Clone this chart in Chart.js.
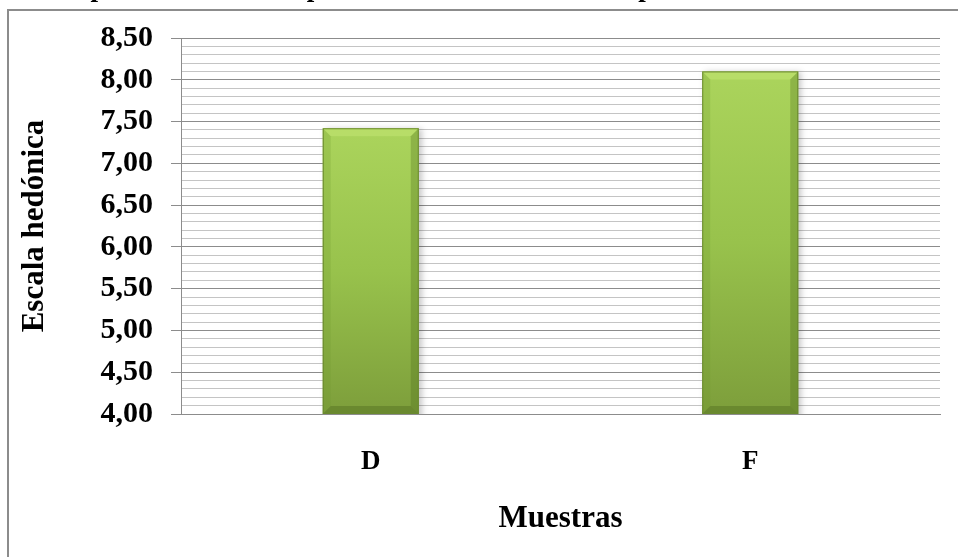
<!DOCTYPE html>
<html>
<head>
<meta charset="utf-8">
<script src="https://cdn.jsdelivr.net/npm/chart.js@4/dist/chart.umd.min.js"></script>
<style>
  html, body { margin: 0; padding: 0; background: #fff; }
  #wrap { width: 958px; height: 557px; }
</style>
</head>
<body>
<div id="wrap"><canvas id="hedonicChart" width="958" height="557"></canvas></div>
<script>
// data
const samples = ["D", "F"];
const hedonicMeans = [7.42, 8.10];
const yMin = 4.0;
const yMax = 8.5;
const yTitle = "Escala hedónica";
const xTitle = "Muestras";
const clippedTitle = "Valor promedio de la aceptabilidad de la bebida en el proceso de fermentación";

const SERIF = "'Liberation Serif', 'DejaVu Serif', serif";

// frame + clipped title sitting above the chart
const framePlugin = {
  id: "frame",
  beforeDraw(chart) {
    const ctx = chart.ctx;
    ctx.save();
    ctx.fillStyle = "#fff";
    ctx.fillRect(0, 0, chart.width, chart.height);
    ctx.fillStyle = "#000";
    ctx.font = "bold 27px " + SERIF;
    ctx.textAlign = "center";
    ctx.textBaseline = "alphabetic";
    ctx.fillText(clippedTitle, 470, -4);
    ctx.strokeStyle = "#8c8c8c";
    ctx.lineWidth = 2;
    ctx.strokeRect(8, 10, chart.width + 20, chart.height + 20);
    ctx.restore();
  }
};

// soft shadow + bevel on the bars
const bevelPlugin = {
  id: "bevel",
  beforeDatasetDraw(chart) {
    const ctx = chart.ctx;
    ctx.save();
    ctx.shadowColor = "rgba(0,0,0,0.22)";
    ctx.shadowBlur = 6;
    ctx.shadowOffsetX = 3;
    ctx.shadowOffsetY = 1;
  },
  afterDatasetDraw(chart, args) {
    const ctx = chart.ctx;
    ctx.restore();
    ctx.save();
    const area = chart.chartArea;
    args.meta.data.forEach(bar => {
      const left = bar.x - bar.width / 2;
      const right = bar.x + bar.width / 2;
      const top = bar.y;
      const bottom = Math.min(bar.base, area.bottom);
      const b = 8;
      // top bevel
      ctx.fillStyle = "rgba(200,232,120,0.45)";
      ctx.beginPath();
      ctx.moveTo(left, top); ctx.lineTo(right, top);
      ctx.lineTo(right - b, top + b); ctx.lineTo(left + b, top + b);
      ctx.closePath(); ctx.fill();
      // left bevel
      ctx.fillStyle = "rgba(110,150,45,0.22)";
      ctx.beginPath();
      ctx.moveTo(left, top); ctx.lineTo(left + b, top + b);
      ctx.lineTo(left + b, bottom - b); ctx.lineTo(left, bottom);
      ctx.closePath(); ctx.fill();
      // right bevel
      ctx.fillStyle = "rgba(70,100,20,0.28)";
      ctx.beginPath();
      ctx.moveTo(right, top); ctx.lineTo(right - b, top + b);
      ctx.lineTo(right - b, bottom - b); ctx.lineTo(right, bottom);
      ctx.closePath(); ctx.fill();
      // bottom bevel
      ctx.fillStyle = "rgba(60,85,20,0.3)";
      ctx.beginPath();
      ctx.moveTo(left, bottom); ctx.lineTo(right, bottom);
      ctx.lineTo(right - b, bottom - b); ctx.lineTo(left + b, bottom - b);
      ctx.closePath(); ctx.fill();
      ctx.strokeStyle = "#6a8a2e";
      ctx.lineWidth = 1;
      ctx.strokeRect(left + 0.5, top + 0.5, bar.width - 1, bottom - top - 1);
    });
    ctx.restore();
  }
};

function isMajor(v) {
  return Math.round(v * 10) % 5 === 0;
}

function barFill(c) {
  const chart = c.chart;
  const y = chart.scales.y;
  if (!y || c.raw === undefined) return "#95bd4a";
  const top = y.getPixelForValue(c.raw);
  const bottom = y.getPixelForValue(yMin);
  if (!Number.isFinite(top) || !Number.isFinite(bottom) || top === bottom) return "#95bd4a";
  const g = chart.ctx.createLinearGradient(0, top, 0, bottom);
  g.addColorStop(0, "#abd45c");
  g.addColorStop(0.5, "#98c24c");
  g.addColorStop(1, "#7d9e3b");
  return g;
}

const ctx = document.getElementById("hedonicChart").getContext("2d");
new Chart(ctx, {
  type: "bar",
  data: {
    labels: samples,
    datasets: [{
      data: hedonicMeans,
      backgroundColor: barFill,
      borderWidth: 0,
      categoryPercentage: 1,
      barPercentage: 0.253
    }]
  },
  options: {
    responsive: false,
    animation: false,
    layout: { padding: { top: 38, right: 18, bottom: 0, left: 0 } },
    plugins: {
      legend: { display: false },
      tooltip: { enabled: false }
    },
    scales: {
      x: {
        grid: { display: false, drawTicks: false },
        border: { display: true, color: "#8c8c8c", width: 1 },
        ticks: {
          color: "#000",
          font: { family: SERIF, size: 27, weight: "bold" },
          padding: 32
        },
        title: {
          display: true,
          text: xTitle,
          color: "#000",
          font: { family: SERIF, size: 31, weight: "bold" },
          padding: { top: 22, bottom: 19 }
        },
        afterFit: (s) => { s.height = 143; }
      },
      y: {
        min: yMin,
        max: yMax,
        ticks: {
          stepSize: 0.1,
          autoSkip: false,
          color: "#000",
          font: { family: SERIF, size: 30, weight: "bold" },
          padding: 18,
          callback: (v) => isMajor(v) ? v.toFixed(2).replace(".", ",") : ""
        },
        grid: {
          color: (c) => isMajor(c.tick.value) ? "#8c8c8c" : "#c4c4c4",
          tickColor: (c) => isMajor(c.tick.value) ? "#8c8c8c" : "rgba(0,0,0,0)",
          tickLength: 10,
          lineWidth: 1
        },
        border: { display: true, color: "#8c8c8c", width: 1 },
        title: {
          display: true,
          text: yTitle,
          color: "#000",
          font: { family: SERIF, size: 31, weight: "bold" },
          padding: { top: 16, bottom: 0 }
        },
        afterFit: (s) => { s.width = 181; }
      }
    }
  },
  plugins: [framePlugin, bevelPlugin]
});
</script>
</body>
</html>
